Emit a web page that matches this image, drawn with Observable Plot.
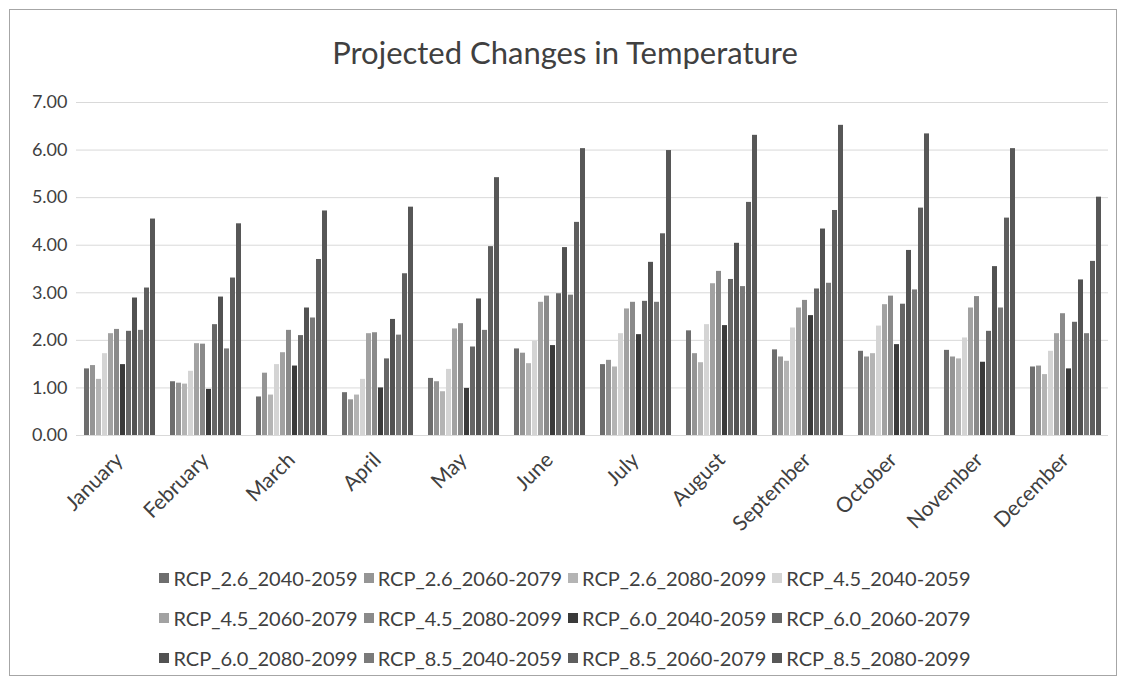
<!DOCTYPE html>
<html>
<head>
<meta charset="utf-8">
<script src="https://cdn.jsdelivr.net/npm/d3@7"></script>
<script src="https://cdn.jsdelivr.net/npm/@observablehq/plot@0.6"></script>
<style>
  html, body { margin: 0; padding: 0; background: #fff; }
  body { width: 1130px; height: 690px; position: relative; font-family: Lato, "Open Sans", sans-serif; }
  #frame { position: absolute; left: 9px; top: 9px; width: 1108px; height: 667px; border: 1px solid #a6a6a6; box-sizing: border-box; }
  #title { position: absolute; left: 0; width: 1130px; top: 32px; text-align: center; font-size: 31px; color: #404040; line-height: 40px; }
  #chart { position: absolute; left: 12px; top: 80px; }
  #legend { position: absolute; left: 0; width: 1130px; top: 558px; }
  .row { display: flex; justify-content: center; height: 40px; align-items: center; }
  .item { display: flex; align-items: center; font-size: 20px; color: #404040; margin: 0 3px; }
  .sw { width: 10px; height: 10px; margin-right: 4px; }
  #chart g[aria-label="fx-axis tick label"] text { font-size: 21px; }
</style>
</head>
<body>
<div id="frame"></div>
<div id="title">Projected Changes in Temperature</div>
<div id="chart"></div>
<div id="legend"></div>
<script>
const months = ["January","February","March","April","May","June","July","August","September","October","November","December"];
const seriesNames = ["RCP_2.6_2040-2059","RCP_2.6_2060-2079","RCP_2.6_2080-2099","RCP_4.5_2040-2059","RCP_4.5_2060-2079","RCP_4.5_2080-2099","RCP_6.0_2040-2059","RCP_6.0_2060-2079","RCP_6.0_2080-2099","RCP_8.5_2040-2059","RCP_8.5_2060-2079","RCP_8.5_2080-2099"];
const seriesColors = ["#6e6e6e","#959595","#b4b4b4","#d4d4d4","#a2a2a2","#8a8a8a","#3a3a3a","#666666","#525252","#7a7a7a","#5e5e5e","#575757"];
const yTicks = [0,1,2,3,4,5,6,7];

const rcp26_2040 = [1.40,1.13,0.81,0.90,1.20,1.82,1.49,2.20,1.80,1.77,1.79,1.44];
const rcp26_2060 = [1.47,1.10,1.31,0.75,1.13,1.73,1.58,1.72,1.65,1.65,1.65,1.46];
const rcp26_2080 = [1.18,1.08,0.85,0.85,0.92,1.51,1.44,1.53,1.56,1.72,1.61,1.28];
const rcp45_2040 = [1.72,1.35,1.49,1.18,1.39,1.98,2.14,2.33,2.26,2.30,2.05,1.77];
const rcp45_2060 = [2.14,1.93,1.74,2.14,2.24,2.80,2.66,3.19,2.68,2.75,2.68,2.14];
const rcp45_2080 = [2.23,1.92,2.21,2.16,2.35,2.93,2.80,3.45,2.84,2.93,2.92,2.56];
const rcp60_2040 = [1.49,0.97,1.46,1.00,0.99,1.89,2.12,2.31,2.52,1.91,1.54,1.40];
const rcp60_2060 = [2.19,2.33,2.10,1.61,1.86,2.98,2.82,3.28,3.08,2.76,2.19,2.38];
const rcp60_2080 = [2.89,2.91,2.68,2.44,2.87,3.95,3.64,4.04,4.34,3.89,3.55,3.27];
const rcp85_2040 = [2.21,1.82,2.47,2.11,2.21,2.95,2.80,3.13,3.20,3.06,2.68,2.14];
const rcp85_2060 = [3.10,3.31,3.70,3.40,3.97,4.48,4.24,4.90,4.73,4.78,4.57,3.66];
const rcp85_2080 = [4.55,4.45,4.72,4.80,5.42,6.03,5.99,6.31,6.52,6.34,6.03,5.01];

const seriesValues = [rcp26_2040, rcp26_2060, rcp26_2080, rcp45_2040, rcp45_2060, rcp45_2080,
  rcp60_2040, rcp60_2060, rcp60_2080, rcp85_2040, rcp85_2060, rcp85_2080];

const table = [];
months.forEach((m, i) => {
  seriesNames.forEach((s, j) => {
    table.push({month: m, series: s, value: seriesValues[j][i]});
  });
});

const chart = Plot.plot({
  width: 1105,
  height: 465,
  marginLeft: 63,
  marginRight: 9,
  marginTop: 22,
  marginBottom: 110,
  style: {fontFamily: "Lato, 'Open Sans', sans-serif", fontSize: "18px", color: "#404040", background: "transparent"},
  fx: {domain: months, paddingInner: 0, paddingOuter: 0, label: null, tickRotate: -45, tickSize: 0, tickPadding: 21},
  x: {domain: seriesNames, axis: null, paddingInner: 0.17, paddingOuter: 1.0},
  y: {domain: [0, 7], ticks: yTicks, tickFormat: d => d.toFixed(2), tickSize: 0, tickPadding: 9, label: null},
  color: {domain: seriesNames, range: seriesColors},
  marks: [
    Plot.ruleY(yTicks, {stroke: "#d9d9d9", strokeWidth: 1}),
    Plot.barY(table, {fx: "month", x: "series", y: "value", fill: "series"})
  ]
});
document.getElementById("chart").appendChild(chart);

const legend = document.getElementById("legend");
for (let r = 0; r < 3; r++) {
  const row = document.createElement("div");
  row.className = "row";
  for (let c = 0; c < 4; c++) {
    const k = r * 4 + c;
    const item = document.createElement("div");
    item.className = "item";
    const sw = document.createElement("span");
    sw.className = "sw";
    sw.style.background = seriesColors[k];
    item.appendChild(sw);
    item.appendChild(document.createTextNode(seriesNames[k]));
    row.appendChild(item);
  }
  legend.appendChild(row);
}
</script>
</body>
</html>
